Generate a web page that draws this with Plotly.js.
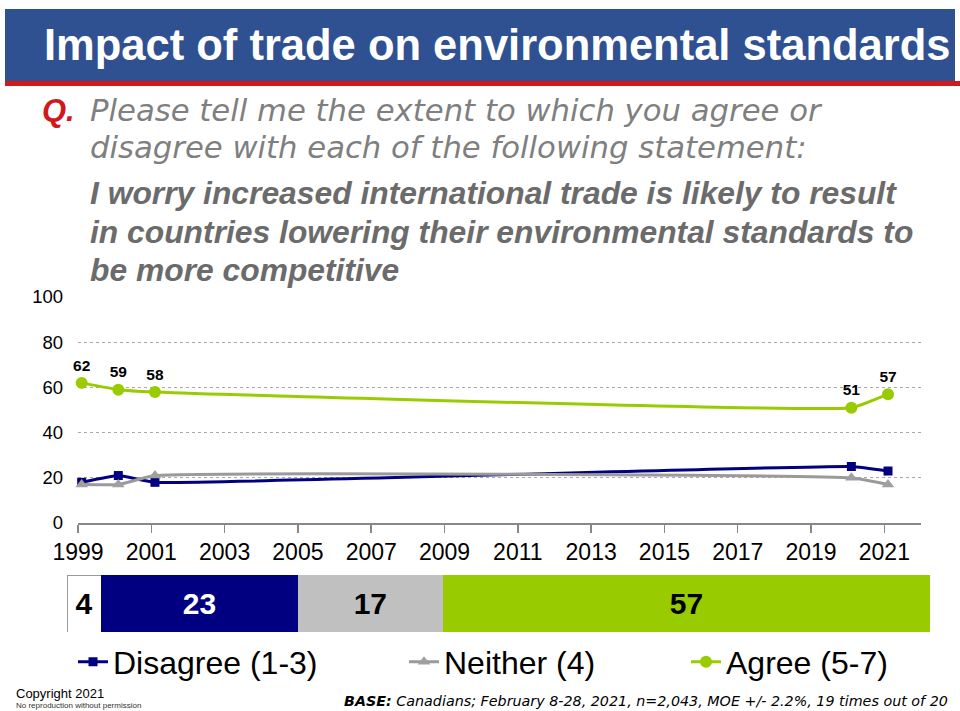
<!DOCTYPE html>
<html>
<head>
<meta charset="utf-8">
<script src="https://cdn.plot.ly/plotly-3.0.1.min.js"></script>
<style>html,body{margin:0;padding:0;background:#fff;}#chart{width:960px;height:711px;}</style>
</head>
<body>
<div id="chart"></div>
<script>
// ---- data ----
const surveyYears = [1999.1, 2000.1, 2001.1, 2020.1, 2021.1];
const disagree = [18, 21, 18, 25, 23];
const neither = [17, 17, 21, 20, 17];
const agree = [62, 59, 58, 51, 57];
const seriesNames = ["Disagree (1-3)", "Neither (4)", "Agree (5-7)"];
const tickYears = [1999, 2001, 2003, 2005, 2007, 2009, 2011, 2013, 2015, 2017, 2019, 2021];
const tickLabels = ["1999", "2001", "2003", "2005", "2007", "2009", "2011", "2013", "2015", "2017", "2019", "2021"];
const barCats = ["DK/NA", "Disagree", "Neither", "Agree"];
const barValues = [4, 23, 17, 57];

// ---- layout helpers ----
const W = 960, H = 711;
const px = x => x / W;
const py = y => 1 - y / H;

const NAVY = "#000080", GREY = "#9a9a9a", GREEN = "#99CC00";
const SMOOTH = 0.35;

const traces = [
  {
    x: surveyYears, y: disagree, name: seriesNames[0], type: "scatter", mode: "lines+markers",
    line: {color: NAVY, width: 3, shape: "spline", smoothing: SMOOTH},
    marker: {symbol: "square", size: 9, color: NAVY},
    xaxis: "x", yaxis: "y", legend: "legend", cliponaxis: false
  },
  {
    x: surveyYears, y: neither, name: seriesNames[1], type: "scatter", mode: "lines+markers",
    line: {color: GREY, width: 3, shape: "spline", smoothing: SMOOTH},
    marker: {symbol: "triangle-up", size: 11, color: "#a0a0a0"},
    xaxis: "x", yaxis: "y", legend: "legend2", cliponaxis: false
  },
  {
    x: surveyYears, y: agree, name: seriesNames[2], type: "scatter", mode: "lines+markers+text",
    text: agree.map(String), textposition: "top center",
    textfont: {family: "Liberation Sans, Arial, sans-serif", size: 15.5, color: "#000", weight: "bold"},
    line: {color: GREEN, width: 3, shape: "spline", smoothing: SMOOTH},
    marker: {symbol: "circle", size: 12, color: GREEN},
    xaxis: "x", yaxis: "y", legend: "legend3", cliponaxis: false
  }
];

const barColors = ["#ffffff", NAVY, "#C0C0C0", GREEN];
const barTextColors = ["#000", "#fff", "#000", "#000"];
barValues.forEach((v, i) => {
  traces.push({
    type: "bar", orientation: "h", x: [v], y: ["total"], name: barCats[i],
    marker: {color: barColors[i], line: {color: i === 0 ? "#999" : barColors[i], width: i === 0 ? 1 : 0}},
    text: [String(v)], textposition: "inside", insidetextanchor: "middle", constraintext: "none",
    textfont: {family: "Liberation Sans, Arial, sans-serif", size: 30, color: barTextColors[i], weight: "bold"},
    xaxis: "x2", yaxis: "y2", showlegend: false, hoverinfo: "skip"
  });
});

const legendBase = {
  orientation: "h", xanchor: "left", yanchor: "middle", y: py(662),
  font: {family: "Liberation Sans, Arial, sans-serif", size: 32, color: "#000"},
  bgcolor: "rgba(0,0,0,0)", borderwidth: 0
};

const annFont = (size, color, extra) => Object.assign({family: "Liberation Sans, Arial, sans-serif", size: size, color: color}, extra || {});

const layout = {
  width: W, height: H,
  margin: {l: 0, r: 0, t: 0, b: 0},
  paper_bgcolor: "#fff", plot_bgcolor: "rgba(0,0,0,0)",
  font: {family: "Liberation Sans, Arial, sans-serif", color: "#000"},
  showlegend: true,
  barmode: "stack", bargap: 0,
  xaxis: {
    domain: [px(78), px(921)], range: [1999, 2022], anchor: "y",
    tickvals: tickYears, ticktext: tickLabels,
    showgrid: false, zeroline: false, showline: true, linecolor: "#888", linewidth: 1.5,
    ticks: "outside", ticklen: 8, tickcolor: "#888", tickwidth: 1.5,
    tickfont: {size: 23, color: "#000"}, fixedrange: true
  },
  yaxis: {
    domain: [py(523), py(297)], range: [0, 100], anchor: "x",
    tickvals: [0, 20, 40, 60, 80, 100],
    showgrid: true, gridcolor: "#a8a8a8", griddash: "dot", gridwidth: 1,
    zeroline: false, showline: false, ticks: "", ticklabelstandoff: 14,
    tickfont: {size: 18.5, color: "#000"}, fixedrange: true
  },
  xaxis2: {domain: [px(67), px(930)], range: [0, 101], anchor: "y2", visible: false, fixedrange: true},
  yaxis2: {domain: [py(632), py(575)], range: [-0.5, 0.5], anchor: "x2", visible: false, fixedrange: true},
  legend: Object.assign({}, legendBase, {x: px(73)}),
  legend2: Object.assign({}, legendBase, {x: px(404)}),
  legend3: Object.assign({}, legendBase, {x: px(686)}),
  shapes: [
    {type: "rect", xref: "paper", yref: "paper", x0: px(5), x1: px(955), y0: py(81), y1: py(9),
      fillcolor: "#2F5192", line: {width: 0}, layer: "below"},
    {type: "rect", xref: "paper", yref: "paper", x0: px(5), x1: px(960), y0: py(86), y1: py(81),
      fillcolor: "#D0191B", line: {width: 0}, layer: "below"}
  ],
  annotations: [
    {xref: "paper", yref: "paper", x: px(42), y: py(45), xanchor: "left", yanchor: "middle", showarrow: false,
      text: "<b>Impact of trade on environmental standards</b>", font: annFont(43.5, "#fff")},
    {xref: "paper", yref: "paper", x: px(40), y: py(110), xanchor: "left", yanchor: "middle", showarrow: false,
      text: "<b><i>Q.</i></b>", font: annFont(31, "#D0191B")},
    {xref: "paper", yref: "paper", x: px(88), y: py(110), xanchor: "left", yanchor: "middle", showarrow: false,
      text: "<i>Please tell me the extent to which you agree or</i>", font: annFont(30.7, "#7F7F7F", {family: "DejaVu Sans, sans-serif"})},
    {xref: "paper", yref: "paper", x: px(88), y: py(147), xanchor: "left", yanchor: "middle", showarrow: false,
      text: "<i>disagree with each of the following statement:</i>", font: annFont(30.7, "#7F7F7F", {family: "DejaVu Sans, sans-serif"})},
    {xref: "paper", yref: "paper", x: px(88), y: py(193), xanchor: "left", yanchor: "middle", showarrow: false,
      text: "<b><i>I worry increased international trade is likely to result</i></b>", font: annFont(31.8, "#6B6B6B")},
    {xref: "paper", yref: "paper", x: px(88), y: py(232), xanchor: "left", yanchor: "middle", showarrow: false,
      text: "<b><i>in countries lowering their environmental standards to</i></b>", font: annFont(31.8, "#6B6B6B")},
    {xref: "paper", yref: "paper", x: px(88), y: py(270), xanchor: "left", yanchor: "middle", showarrow: false,
      text: "<b><i>be more competitive</i></b>", font: annFont(31.8, "#6B6B6B")},
    {xref: "paper", yref: "paper", x: px(14), y: py(693), xanchor: "left", yanchor: "middle", showarrow: false,
      text: "Copyright 2021", font: annFont(13, "#000")},
    {xref: "paper", yref: "paper", x: px(14), y: py(705), xanchor: "left", yanchor: "middle", showarrow: false,
      text: "No reproduction without permission", font: annFont(8, "#333")},
    {xref: "paper", yref: "paper", x: px(342), y: py(701), xanchor: "left", yanchor: "middle", showarrow: false,
      text: "<b><i>BASE:</i></b><i> Canadians; February 8-28, 2021, n=2,043, MOE +/- 2.2%, 19 times out of 20</i>",
      font: annFont(14.3, "#000", {family: "DejaVu Sans, sans-serif"})}
  ]
};

Plotly.newPlot("chart", traces, layout, {displayModeBar: false, staticPlot: true});
</script>
</body>
</html>
